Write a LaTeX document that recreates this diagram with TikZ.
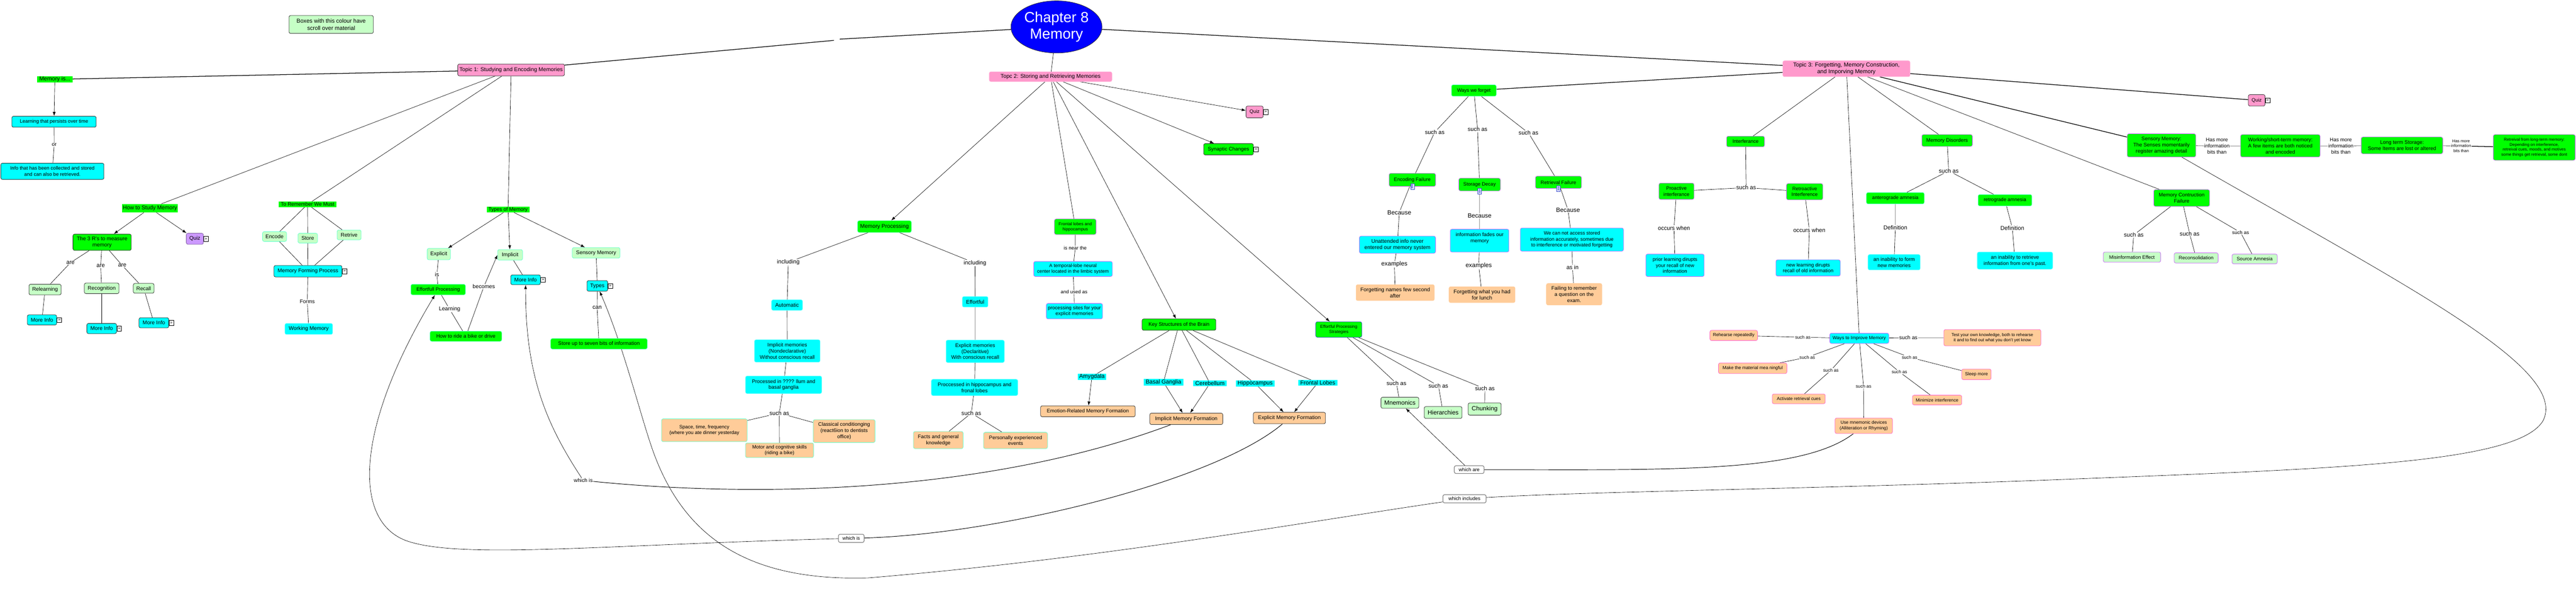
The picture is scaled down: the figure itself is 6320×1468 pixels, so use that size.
\documentclass[tikz,border=0pt]{standalone}
\usepackage{fontspec}
\setmainfont{Liberation Sans}
\usetikzlibrary{shapes.geometric,arrows.meta}
\pgfdeclarelayer{bg}
\pgfsetlayers{bg,main}
\definecolor{cG}{HTML}{00FF00}
\definecolor{cLG}{HTML}{C6FFC6}
\definecolor{cCY}{HTML}{00FFFF}
\definecolor{cPK}{HTML}{FF99CC}
\definecolor{cOR}{HTML}{FFCC99}
\definecolor{cPU}{HTML}{CC99FF}
\definecolor{cBL}{HTML}{0000FF}
\definecolor{cDK}{HTML}{333333}
\definecolor{cTL}{HTML}{66FFCC}
\definecolor{cPR}{HTML}{CC66FF}
\definecolor{cMG}{HTML}{FF66CC}
\definecolor{cCL}{HTML}{66FFFF}
\definecolor{cPL}{HTML}{FFB3D9}
\definecolor{cPD}{HTML}{7F5F9F}
\definecolor{cBD}{HTML}{3344CC}
\newcommand\fs[1]{\fontsize{#1}{\fpeval{1.2*#1}}\selectfont}
\newcommand\B[8]{\node[#2,font=\fs{#3},minimum width={#6-#4},minimum height={#7-#5}] (#1) at ({(#4+#6)/2},{(#5+#7)/2}) {#8};}
\newcommand\Lb[5]{\node[lab,font=\fs{#2}] (#1) at (#3,#4) {#5};}
\tikzset{
 bx/.style={rounded corners=4pt, inner sep=1pt, align=center, line width=1pt},
 gH/.style={fill=cG, inner sep=1pt, align=center},
 gB/.style={bx, fill=cG, draw=cDK},
 gT/.style={bx, fill=cG, draw=cTL},
 gP/.style={bx, fill=cG, draw=cPR},
 gU/.style={bx, fill=cG, draw=cBD},
 lgD/.style={bx, fill=cLG, draw=cDK},
 lgT/.style={bx, fill=cLG, draw=cTL},
 lgP/.style={bx, fill=cLG, draw=cPR},
 cD/.style={bx, fill=cCY, draw=cDK},
 cT/.style={bx, fill=cCY, draw=cCL},
 cP/.style={bx, fill=cCY, draw=cPR},
 cH/.style={fill=cCY, inner sep=1pt},
 oD/.style={bx, fill=cOR, draw=cDK},
 oT/.style={bx, fill=cOR, draw=cTL},
 oN/.style={bx, fill=cOR, draw=cOR},
 oM/.style={bx, fill=cOR, draw=cMG},
 pkD/.style={bx, fill=cPK, draw=cDK},
 pkL/.style={bx, fill=cPK, draw=cPL},
 puD/.style={bx, fill=cPU, draw=cPD},
 lab/.style={fill=white, inner sep=1pt, align=center},
 wb/.style={bx, fill=white, draw=gray, line width=1.5pt},
 ln/.style={line width=0.8pt},
 tk/.style={line width=1.6pt},
 cv/.style={line width=1.2pt},
 ar/.style={-{Latex[length=10pt,width=7pt]}, line width=0.8pt},
 ic/.style={draw=black, fill=white, inner sep=0pt, minimum width=11pt, minimum height=12pt, font=\fs{10}, line width=0.6pt, anchor=west},
 docic/.style={draw=cBD, fill=white, minimum width=9pt, minimum height=14pt, inner sep=0pt, line width=0.6pt,
   path picture={\foreach \k in {1,...,4}{\draw[line width=0.8pt] ([xshift=2pt,yshift=-\k*2.6pt]path picture bounding box.north west) -- ++(5pt,0);}}}
}
\begin{document}
\begin{tikzpicture}[x=1pt,y=-1pt]
\useasboundingbox (0,0) rectangle (6320,1468);
\begin{pgfonlayer}{bg}
\fill[white] (0,0) rectangle (6320,1468);
\end{pgfonlayer}
% ---------------- Topic 1 ----------------
\B{legend}{lgD}{14}{709}{38}{916}{82}{Boxes with this colour have\\scroll over material}
\B{t1}{pkD}{13.5}{1123}{157}{1385}{186}{Topic 1: Studying and Encoding Memories}
\B{memis}{gH}{14}{91}{187}{178}{202}{Memory is...}
\B{learn}{cD}{12}{29}{285}{236}{312}{Learning that persists over time}
\B{info}{cD}{12}{2}{400}{255}{440}{Info that has been collected and stored\\and can also be retrieved.}
\Lb{or}{13}{133}{355}{or}
\B{howto}{gH}{13.5}{300}{500}{436}{521}{How to Study Memory}
\B{threeR}{gB}{13}{179}{574}{322}{614}{The 3 R's to measure\\memory}
\B{quiz1}{puD}{13}{457}{572}{499}{599}{Quiz}
\B{relearn}{lgD}{13}{71}{697}{150}{723}{Relearning}
\B{recog}{lgD}{13}{207}{694}{292}{720}{Recognition}
\B{recall}{lgD}{13}{327}{695}{378}{719}{Recall}
\Lb{are1}{14}{173}{644}{are}
\Lb{are2}{14}{247}{652}{are}
\Lb{are3}{14}{300}{651}{are}
\B{mi1}{cD}{13}{67}{772}{139}{797}{More Info}
\B{mi2}{cD}{13}{213}{793}{286}{818}{More Info}
\B{mi3}{cD}{13}{341}{779}{414}{804}{More Info}
\B{torem}{gH}{12.5}{684}{494}{825}{508}{To Remember We Must}
\B{encode}{lgT}{13}{644}{568}{703}{592}{Encode}
\B{store}{lgT}{13}{731}{572}{779}{596}{Store}
\B{retrive}{lgT}{13}{827}{564}{886}{588}{Retrive}
\B{mfp}{cD}{13}{672}{651}{839}{679}{Memory Forming Process}
\Lb{forms}{13}{754}{740}{Forms}
\B{wm}{cT}{13}{699}{793}{816}{820}{Working Memory}
\B{types}{gH}{12.5}{1194}{507}{1299}{521}{Types of Memory}
\B{explicit}{lgT}{13}{1048}{609}{1105}{637}{Explicit}
\B{implicit}{lgT}{13}{1221}{612}{1282}{638}{Implicit}
\B{sensory}{lgT}{13}{1404}{607}{1521}{633}{Sensory Memory}
\B{effp}{gT}{12}{1008}{697}{1142}{723}{Effortfull Processing}
\B{ride}{gT}{12.5}{1055}{812}{1231}{837}{How to ride a bike or drive}
\B{mi4}{cD}{13}{1253}{674}{1326}{698}{More Info}
\B{typesb}{cD}{13}{1440}{688}{1491}{714}{Types}
\B{storeup}{gT}{12.5}{1351}{830}{1588}{856}{Store up to seven bits of information}
\Lb{is}{14}{1072}{673}{is}
\Lb{learning}{13.5}{1103}{758}{Learning}
\Lb{becomes}{13.5}{1187}{703}{becomes}
\Lb{can}{14}{1465}{754}{can}
% ---------------- Center / Topic 2 ----------------
\node[ellipse, fill=cBL, draw=cDK, line width=1pt, minimum width=211pt, minimum height=128pt, text=white, font=\fontsize{36}{40}\selectfont, align=center, inner sep=0pt] (ch8) at (2592,66) {Chapter 8\\Memory};
\coordinate (gA) at (2060,96);
\coordinate (gB) at (2046,99);
\B{t2}{pkL}{13.5}{2427}{176}{2728}{200}{Topc 2: Storing and Retrieving Memories}
\B{synaptic}{gB}{12.5}{2953}{352}{3075}{380}{Synaptic Changes}
\B{quiz2}{pkD}{12}{3057}{260}{3099}{289}{Quiz}
\B{memproc}{gT}{13.5}{2104}{541}{2236}{570}{Memory Processing}
\B{frontal}{gP}{10.5}{2587}{537}{2689}{575}{Frontal lobes and\\hippocampus}
\B{keystruct}{gB}{12.5}{2802}{782}{2983}{810}{Key Structures of the Brain}
\B{effps}{gU}{10.5}{3228}{789}{3341}{827}{Effortful Processing\\Strategies}
\Lb{inc1}{14}{1934}{643}{including}
\Lb{inc2}{14}{2392}{645}{including}
\B{automatic}{cT}{13}{1893}{735}{1969}{761}{Automatic}
\B{effortful}{cT}{13}{2361}{727}{2424}{753}{Effortful}
\B{implmem}{cT}{12.5}{1851}{833}{2012}{888}{Implicit memories\\(Nondeclarative)\\Without conscious recall}
\B{explmem}{cT}{12.5}{2321}{834}{2464}{889}{Explicit memories\\(Declaritive)\\With conscious recall}
\B{proccer}{cT}{12.5}{1829}{922}{2016}{965}{Processed in ???? llum and\\basal ganglia}
\B{prochip}{cT}{12.5}{2285}{930}{2497}{970}{Proccessed in hippocampus and\\fronal lobes}
\Lb{sa1}{14}{1912}{1013}{such as}
\Lb{sa2}{14}{2383}{1013}{such as}
\B{space}{oT}{12}{1623}{1027}{1833}{1083}{Space, time, frequency\\(where you ate dinner yesterday}
\B{classical}{oT}{12.5}{1995}{1029}{2147}{1085}{Classical conditionging\\(react6ion to dentists\\office)}
\B{motor}{oT}{12}{1829}{1086}{1996}{1122}{Motor and cognitive skills\\(riding a bike)}
\B{facts}{oT}{12.5}{2241}{1058}{2363}{1100}{Facts and general\\knowledge}
\B{personal}{oT}{12.5}{2413}{1060}{2570}{1100}{Personally experienced\\events}
\B{temporal}{cP}{11.5}{2536}{641}{2729}{678}{A temporal-lobe neural\\center located in the limbic system}
\B{procsites}{cP}{12}{2567}{744}{2705}{782}{processing sites for your\\explicit memories}
\Lb{isnear}{12}{2638}{608}{is near the}
\Lb{usedas}{12}{2635}{716}{and used as}
\B{amyg}{cH}{14}{2644}{916}{2714}{931}{Amygdala}
\B{basal}{cH}{14}{2806}{929}{2903}{945}{Basal Ganglia}
\B{cereb}{cH}{14}{2928}{933}{3009}{947}{Cerebellum}
\B{hippo}{cH}{14}{3032}{933}{3127}{948}{Hippocampus}
\B{frontl}{cH}{14}{3185}{932}{3281}{945}{Frontal Lobes}
\B{emo}{oD}{12.5}{2553}{995}{2785}{1022}{Emotion-Related Memory Formation}
\B{imf}{oD}{13}{2821}{1013}{3000}{1041}{Implicit Memory Formation}
\B{emf}{oD}{13}{3075}{1011}{3252}{1039}{Explicit Memory Formation}
\B{mnem}{lgD}{15}{3388}{974}{3481}{1001}{Mnemonics}
\B{hier}{lgD}{15}{3494}{997}{3587}{1026}{Hierarchies}
\B{chunk}{lgD}{15}{3602}{988}{3683}{1018}{Chunking}
\Lb{sa3}{14}{3426}{940}{such as}
\Lb{sa4}{14}{3529}{946}{such as}
\Lb{sa5}{14}{3643}{953}{such as}
\node[lab,font=\fs{13}] (w1) at (1431,1178) {which is};
\B{w2}{wb}{12}{2057}{1310}{2120}{1330}{which is}
\B{wa}{wb}{12}{3568}{1142}{3641}{1161}{which are}
\B{wi}{wb}{12}{3540}{1213}{3646}{1233}{which includes}
% ---------------- Topic 3 ----------------
\B{t3}{pkL}{14}{4374}{149}{4686}{188}{Topic 3: Forgetting, Memory Construction,\\and Imporving Memory}
\B{wwf}{gT}{12}{3561}{208}{3671}{236}{Ways we forget}
\Lb{sa6}{14}{3520}{324}{such as}
\Lb{sa7}{14}{3625}{317}{such as}
\Lb{sa8}{14}{3750}{326}{such as}
\B{encf}{gP}{12}{3408}{425}{3522}{457}{Encoding Failure}
\B{stord}{gP}{12}{3579}{437}{3681}{468}{Storage Decay}
\B{retf}{gP}{12}{3767}{432}{3880}{462}{Retrieval Failure}
\node[docic] (encfi) at (encf.south) {};
\node[docic] (stordi) at (stord.south) {};
\node[docic] (retfi) at (retf.south) {};
\Lb{bec1}{15}{3433}{521}{Because}
\Lb{bec2}{15}{3630}{529}{Because}
\Lb{bec3}{15}{3847}{515}{Because}
\B{unatt}{cP}{13}{3335}{579}{3522}{621}{Unattended info never\\entered our memory system}
\B{fades}{cP}{12.5}{3558}{562}{3702}{618}{information fades our\\memory\\\mbox{}}
\B{access}{cP}{12}{3730}{559}{3983}{616}{We can not access stored\\information accurately, sometimes due\\to interference or motivated forgetting}
\Lb{ex1}{15}{3421}{648}{examples}
\Lb{ex2}{15}{3628}{652}{examples}
\Lb{asin}{14}{3858}{656}{as in}
\B{fnames}{oN}{13}{3327}{698}{3519}{737}{Forgetting names few second\\after}
\B{flunch}{oN}{13}{3555}{703}{3717}{742}{Forgetting what you had\\for lunch}
\B{failing}{oN}{12.5}{3794}{695}{3930}{748}{Failing to remember\\a question on the\\exam.}
\B{interf}{gP}{12}{4236}{334}{4329}{360}{Interferance}
\Lb{sa9}{14}{4284}{460}{such as}
\B{proact}{gP}{12}{4070}{449}{4156}{489}{Proactive\\interferance}
\B{retro}{gP}{12}{4383}{450}{4472}{490}{Retroactive\\Interference}
\Lb{oc1}{14}{4107}{559}{occurs when}
\Lb{oc2}{14}{4439}{564}{occurs when}
\B{prior}{cP}{12}{4038}{623}{4181}{678}{prior learning dirupts\\your recall of new\\information}
\B{newl}{cP}{12}{4357}{637}{4515}{677}{new learning dirupts\\recall of old information}
\B{memdis}{gP}{12.5}{4715}{330}{4839}{359}{Memory Disorders}
\Lb{sa10}{14}{4781}{419}{such as}
\B{antero}{gT}{12}{4579}{472}{4721}{500}{anterograde amnesia}
\B{retrog}{gT}{12}{4853}{477}{4985}{505}{retrograde amnesia}
\Lb{def1}{14}{4650}{558}{Definition}
\Lb{def2}{14}{4937}{559}{Definition}
\B{inab1}{cT}{12.5}{4583}{624}{4711}{662}{an inability to form\\new memories}
\B{inab2}{cT}{12.5}{4851}{618}{5036}{660}{an inability to retrieve\\information from one's past.}
\B{wti}{cP}{11.5}{4489}{817}{4634}{842}{Ways to Improve Memory}
\B{rehearse}{oM}{11}{4195}{810}{4312}{835}{Rehearse repeatedly}
\B{testk}{oM}{10.5}{4769}{808}{5007}{848}{Test your own knowledge, both to rehearse\\it and to find out what you don't yet know}
\B{meaning}{oM}{11}{4216}{890}{4384}{916}{Make the material mea ningful}
\B{activate}{oM}{11}{4348}{966}{4478}{990}{Activate retrieval cues}
\B{usemn}{oM}{11}{4502}{1025}{4643}{1063}{Use mnemonic devices\\(Alliteration or Rhyming)}
\B{minim}{oM}{11}{4692}{969}{4813}{993}{Minimize interference}
\B{sleep}{oM}{11}{4813}{905}{4885}{931}{Sleep more}
\Lb{saR}{11}{4423}{827}{such as}
\Lb{saT}{13}{4682}{828}{such as}
\Lb{saM}{11}{4434}{876}{such as}
\Lb{saA}{11}{4492}{908}{such as}
\Lb{saU}{11}{4572}{947}{such as}
\Lb{saMi}{11}{4660}{912}{such as}
\Lb{saS}{11}{4685}{876}{such as}
\B{mcf}{gP}{12.5}{5284}{465}{5421}{506}{Memory Contruction\\Failure}
\Lb{sa11}{14}{5235}{576}{such as}
\Lb{sa12}{14}{5372}{573}{such as}
\Lb{sa13}{12}{5497}{570}{such as}
\B{misinfo}{lgP}{12}{5160}{618}{5301}{643}{Misinformation Effect}
\B{recon}{lgP}{12}{5334}{620}{5442}{645}{Reconsolidation}
\B{source}{lgP}{12}{5476}{623}{5587}{647}{Source Amnesia}
\B{sm3}{gP}{12.5}{5219}{328}{5387}{385}{Sensory Memory:\\The Senses momentarily\\register amazing detail}
\B{work}{gP}{12.5}{5497}{330}{5692}{385}{Working/short-term memory:\\A few items are both noticed\\and encoded}
\B{ltm}{gP}{12.5}{5793}{336}{5993}{377}{Long term Storage:\\Some Items are lost or altered}
\B{retr}{gP}{10}{6117}{330}{6318}{393}{Retreival from long-term memory:\\Depending on interference,\\retreival cues, moods, and motives\\some things get retrieval, some dont}
\Lb{hm1}{12.5}{5439}{358}{Has more\\information\\bits than}
\Lb{hm2}{12.5}{5743}{358}{Has more\\information\\bits than}
\Lb{hm3}{10}{6038}{358}{Has more\\information\\bits than}
\B{quiz3}{pkD}{12}{5516}{232}{5557}{260}{Quiz}
% link icons
\node[ic] (quiz1i) at (quiz1.east) {»};
\node[ic] (mi1i) at (mi1.east) {»};
\node[ic] (mi2i) at (mi2.east) {»};
\node[ic] (mi3i) at (mi3.east) {»};
\node[ic] (mfpi) at (mfp.east) {»};
\node[ic] (mi4i) at (mi4.east) {»};
\node[ic] (typesbi) at (typesb.east) {»};
\node[ic] (synaptici) at (synaptic.east) {»};
\node[ic] (quiz2i) at (quiz2.east) {»};
\node[ic] (quiz3i) at (quiz3.east) {»};
% ---------------- connectors ----------------
\begin{pgfonlayer}{bg}
\draw[tk] (ch8) -- (gA);
\draw[tk] (gB) -- (t1);
\draw[tk] (t1) -- (memis);
\draw[ar] (memis) -- (learn);
\draw[ln] (learn) -- (or) -- (info);
\draw[ln] (t1) -- (howto);
\draw[ln] (t1) -- (torem);
\draw[ln] (t1) -- (types);
\draw[ar] (howto) -- (threeR);
\draw[ar] (howto) -- (quiz1);
\draw[ln] (threeR) -- (are1) -- (relearn);
\draw[ln] (threeR) -- (are2) -- (recog);
\draw[ln] (threeR) -- (are3) -- (recall);
\draw[ln] (relearn) -- (mi1);
\draw[ln] (recog) -- (mi2);
\draw[ln] (recall) -- (mi3);
\draw[ln] (torem) -- (encode);
\draw[ln] (torem) -- (store);
\draw[ln] (torem) -- (retrive);
\draw[ln] (encode) -- (mfp);
\draw[ln] (store) -- (mfp);
\draw[ln] (retrive) -- (mfp);
\draw[ln] (mfp) -- (forms) -- (wm);
\draw[ar] (types) -- (explicit);
\draw[ar] (types) -- (implicit);
\draw[ar] (types) -- (sensory);
\draw[ln] (explicit) -- (is) -- (effp);
\draw[ln] (effp) -- (learning) -- (ride);
\draw[ar] (ride) -- (becomes) -- (implicit.west);
\draw[ln] (implicit) -- (mi4);
\draw[ln] (sensory) -- (typesb);
\draw[ln] (typesb) -- (can) -- (storeup);
% topic 2
\draw[ln] (ch8) -- (t2);
\draw[ar] (t2) -- (memproc);
\draw[ln] (t2) -- (frontal);
\draw[ar] (t2) -- (keystruct);
\draw[ar] (t2) -- (effps);
\draw[ar] (t2) -- (synaptic);
\draw[ar] (t2) -- (quiz2);
\draw[ln] (memproc) -- (inc1) -- (automatic) -- (implmem) -- (proccer) -- (sa1);
\draw[ln] (sa1) -- (space);
\draw[ln] (sa1) -- (motor);
\draw[ln] (sa1) -- (classical);
\draw[ln] (memproc) -- (inc2) -- (effortful) -- (explmem) -- (prochip) -- (sa2);
\draw[ln] (sa2) -- (facts);
\draw[ln] (sa2) -- (personal);
\draw[ln] (frontal) -- (isnear) -- (temporal) -- (usedas) -- (procsites);
\draw[ln] (keystruct) -- (amyg);
\draw[ln] (keystruct) -- (basal);
\draw[ln] (keystruct) -- (cereb);
\draw[ln] (keystruct) -- (hippo);
\draw[ln] (keystruct) -- (frontl);
\draw[ar] (amyg) -- (emo);
\draw[ar] (basal) -- (imf);
\draw[ar] (cereb) -- (imf);
\draw[ar] (hippo) -- (emf);
\draw[ar] (frontl) -- (emf);
\draw[ln] (effps) -- (sa3) -- (mnem);
\draw[ln] (effps) -- (sa4) -- (hier);
\draw[ln] (effps) -- (sa5) -- (chunk);
% long curves
\draw[cv] (imf) .. controls (2450,1200) and (1900,1225) .. (w1);
\draw[ar] (w1) .. controls (1340,1040) and (1289,920) .. (mi4);
\draw[cv] (emf) .. controls (2980,1180) and (2450,1310) .. (w2);
\draw[ar] (w2) .. controls (1500,1335) and (1150,1370) .. (1010,1330) .. controls (860,1290) and (870,1050) .. (effp);
\draw[cv] (usemn) .. controls (4420,1160) and (4100,1152) .. (wa);
\draw[ar] (wa) -- (mnem);
\draw[ln] (sm3) .. controls (5900,700) and (6300,900) .. (6240,1030) .. controls (6180,1140) and (5700,1150) .. (5000,1178) .. controls (4400,1200) and (3900,1205) .. (wi);
\draw[ar] (wi) .. controls (3200,1280) and (2700,1370) .. (2130,1417) .. controls (1850,1425) and (1680,1330) .. (1600,1100) .. controls (1570,1014) and (1530,850) .. (typesb);
% topic 3
\draw[tk] (ch8) -- (t3);
\draw[tk] (t3) -- (wwf);
\draw[ln] (wwf) -- (sa6) -- (encf);
\draw[ln] (wwf) -- (sa7) -- (stord);
\draw[ln] (wwf) -- (sa8) -- (retf);
\draw[ln] (encf) -- (bec1) -- (unatt) -- (ex1) -- (fnames);
\draw[ln] (stord) -- (bec2) -- (fades) -- (ex2) -- (flunch);
\draw[ln] (retf) -- (bec3) -- (access) -- (asin) -- (failing);
\draw[ln] (t3) -- (interf) -- (sa9);
\draw[ln] (sa9) -- (proact);
\draw[ln] (sa9) -- (retro);
\draw[ln] (proact) -- (oc1) -- (prior);
\draw[ln] (retro) -- (oc2) -- (newl);
\draw[ln] (t3) -- (wti);
\draw[ln] (wti) -- (saR) -- (rehearse);
\draw[ln] (wti) -- (saT) -- (testk);
\draw[ln] (wti) -- (saM) -- (meaning);
\draw[ln] (wti) -- (saA) -- (activate);
\draw[ln] (wti) -- (saU) -- (usemn);
\draw[ln] (wti) -- (saMi) -- (minim);
\draw[ln] (wti) -- (saS) -- (sleep);
\draw[ln] (t3) -- (memdis) -- (sa10);
\draw[ln] (sa10) -- (antero);
\draw[ln] (sa10) -- (retrog);
\draw[ln] (antero) -- (def1) -- (inab1);
\draw[ln] (retrog) -- (def2) -- (inab2);
\draw[ln] (t3) -- (mcf);
\draw[ln] (mcf) -- (sa11) -- (misinfo);
\draw[ln] (mcf) -- (sa12) -- (recon);
\draw[ln] (mcf) -- (sa13) -- (source);
\draw[tk] (t3) -- (sm3);
\draw[tk] (t3) -- (quiz3);
\draw[ln] (sm3) -- (hm1) -- (work) -- (hm2) -- (ltm) -- (hm3);
\draw[tk] (hm3) -- (retr);
\end{pgfonlayer}
\end{tikzpicture}
\end{document}
